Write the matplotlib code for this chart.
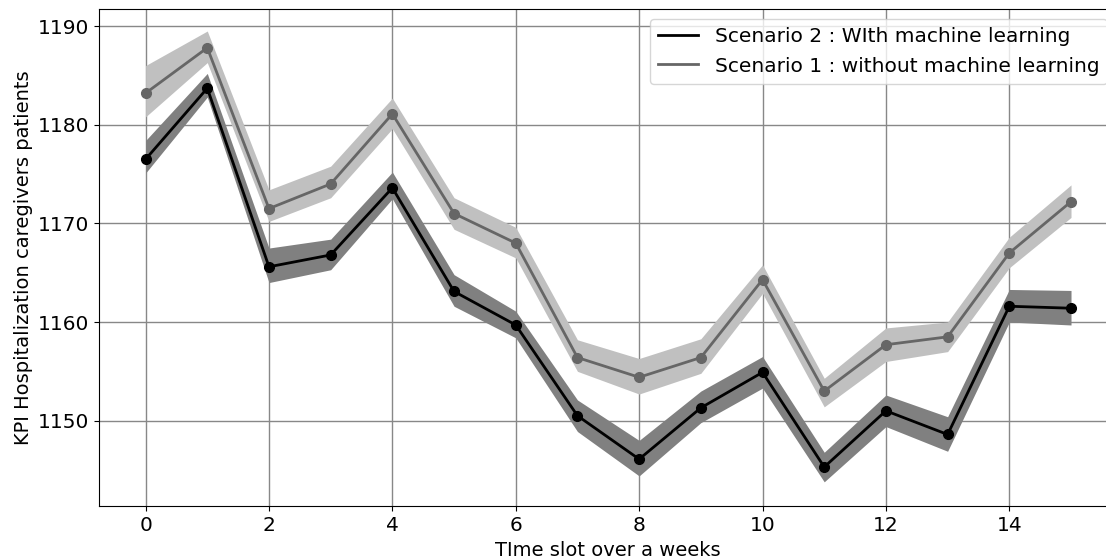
import numpy as np
import matplotlib
matplotlib.use('Agg')
import matplotlib.pyplot as plt

# time slots
slots = np.arange(16)

# Scenario 2 : with machine learning (mean, band low, band high)
ml_mean = [1176.5, 1183.7, 1165.6, 1166.8, 1173.6, 1163.1, 1159.7, 1150.5,
           1146.1, 1151.3, 1154.9, 1145.3, 1151.0, 1148.6, 1161.6, 1161.4]
ml_low = [1175.1, 1182.8, 1164.0, 1165.3, 1172.5, 1161.6, 1158.4, 1148.9,
          1144.4, 1149.8, 1153.3, 1143.8, 1149.4, 1146.9, 1160.0, 1159.7]
ml_high = [1178.4, 1185.2, 1167.5, 1168.4, 1175.2, 1164.8, 1161.1, 1152.1,
           1148.0, 1153.0, 1156.5, 1146.8, 1152.6, 1150.4, 1163.3, 1163.2]

# Scenario 1 : without machine learning
noml_mean = [1183.2, 1187.8, 1171.5, 1174.0, 1181.1, 1171.0, 1168.0, 1156.4,
             1154.4, 1156.4, 1164.3, 1153.0, 1157.7, 1158.5, 1167.0, 1172.2]
noml_low = [1180.8, 1186.3, 1170.2, 1172.6, 1179.6, 1169.4, 1166.5, 1155.0,
            1152.7, 1154.8, 1162.9, 1151.4, 1156.0, 1157.0, 1165.5, 1170.6]
noml_high = [1186.0, 1189.5, 1173.4, 1175.8, 1182.7, 1172.6, 1169.6, 1158.2,
             1156.3, 1158.3, 1165.8, 1154.3, 1159.4, 1160.0, 1168.6, 1173.9]

fig = plt.figure(figsize=(11.06, 5.58), dpi=100)
ax = fig.add_axes([0.0898, 0.0923, 0.9204, 0.891])

ax.fill_between(slots, noml_low, noml_high, color='#c0c0c0', lw=0, zorder=2)
ax.fill_between(slots, ml_low, ml_high, color='#808080', lw=0, zorder=2)

ax.plot(slots, ml_mean, color='black', lw=2, label='Scenario 2 : WIth machine learning', zorder=4)
ax.plot(slots, noml_mean, color='#666666', lw=2, label='Scenario 1 : without machine learning', zorder=3)
ax.plot(slots, ml_mean, 'o', color='black', ms=7, zorder=4)
ax.plot(slots, noml_mean, 'o', color='#666666', ms=7, zorder=3)

ax.set_xlim(-0.75, 15.75)
ax.set_ylim(1141.3, 1191.7)
ax.set_xticks(range(0, 16, 2))
ax.set_yticks([1150, 1160, 1170, 1180, 1190])
ax.tick_params(labelsize=14.5)
ax.grid(True, color='#888888', lw=1, zorder=0)
ax.set_axisbelow(True)

ax.set_xlabel('TIme slot over a weeks', fontsize=14)
ax.set_ylabel('KPI Hospitalization caregivers patients', fontsize=14)
ax.legend(loc='upper right', fontsize=14.5)

fig.savefig('out.png', dpi=100)
